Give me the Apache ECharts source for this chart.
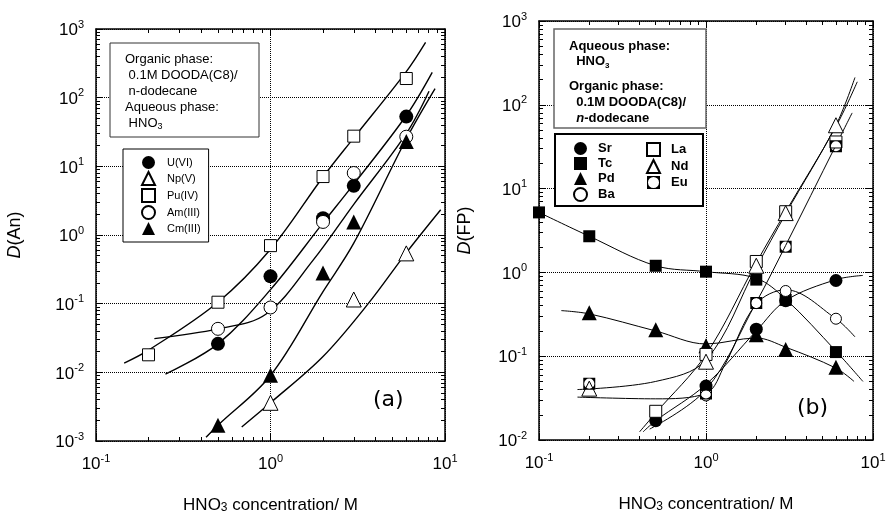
<!DOCTYPE html>
<html>
<head>
<meta charset="utf-8">
<script src="https://cdn.jsdelivr.net/npm/echarts@6/dist/echarts.min.js"></script>
<style>html,body{margin:0;padding:0;background:#fff;}</style>
</head>
<body>
<div id="main" style="width:887px;height:517px;"></div>
<script>
// ---- panel (a): actinides, D(An) vs HNO3 ----
var uPts  = [[0.5,0.026],[1,0.25],[2,1.75],[3,5.2],[6,53]];
var npPts = [[1,0.0036],[3,0.115],[6,0.54]];
var puPts = [[0.2,0.018],[0.5,0.105],[1,0.7],[2,7.1],[3,27.5],[6,190]];
var amPts = [[0.5,0.043],[1,0.088],[2,1.55],[3,8],[6,27]];
var cmPts = [[0.5,0.0017],[1,0.0091],[2,0.28],[3,1.55],[6,23]];

// fitted curves
var uFit  = [[0.25,0.0094],[0.5,0.026],[1,0.16],[2,1.5],[3,5.5],[6,55],[8.45,234]];
var npFit = [[0.684,0.0016],[1,0.0036],[2,0.017],[3.63,0.1],[6,0.55],[9.45,2.33]];
var puFit = [[0.145,0.0136],[0.2,0.021],[0.5,0.105],[1,0.62],[2,7],[3,26],[6,240],[7.74,640]];
var amFit = [[0.216,0.031],[0.5,0.043],[0.94,0.07],[1.76,0.434],[3,2.8],[6,30],[8.1,124]];
var cmFit = [[0.427,0.00113],[0.5,0.0017],[1,0.009],[2,0.15],[3,0.76],[6,25],[8.77,135]];

// ---- panel (b): fission products, D(FP) vs HNO3 ----
var srPts = [[0.5,0.017],[1,0.044],[2,0.21],[3,0.46],[6,0.8]];
var tcPts = [[0.1,5.2],[0.2,2.7],[0.5,1.2],[1,1.02],[2,0.82],[3,0.47],[6,0.112]];
var pdPts = [[0.2,0.33],[0.5,0.207],[1,0.133],[2,0.18],[3,0.12],[6,0.074]];
var baPts = [[1,0.034],[2,0.43],[3,0.6],[6,0.28]];
var laPts = [[0.5,0.022],[1,0.105],[2,1.35],[3,5.3],[6,36]];
var ndPts = [[0.2,0.041],[1,0.086],[2,1.2],[3,5.1],[6,57]];
var euPts = [[0.2,0.047],[1,0.036],[2,0.43],[3,2.03],[6,32]];

var srFit = [[0.42,0.0125],[0.5,0.017],[1,0.046],[2,0.2],[3,0.46],[6,0.82],[8.7,0.92]];
var tcFit = [[0.1,5.2],[0.2,2.7],[0.5,1.2],[1,1.02],[2,0.85],[3,0.48],[6,0.115],[8.7,0.05]];
var pdFit = [[0.136,0.35],[0.2,0.32],[0.5,0.2],[1,0.14],[2,0.165],[3,0.128],[6,0.072],[7.7,0.05]];
var baFit = [[0.17,0.0325],[0.5,0.031],[1,0.036],[1.3,0.08],[2,0.42],[3,0.62],[6,0.28],[7.8,0.17]];
var laFit = [[0.4,0.0125],[0.5,0.021],[1,0.105],[2,1.3],[3,5.3],[6,55],[8.05,188]];
var ndFit = [[0.17,0.04],[0.5,0.05],[1,0.09],[2,1.15],[3,5],[6,57],[7.8,212]];
var euFit = [[0.46,0.0135],[1,0.04],[2,0.44],[3,2.1],[6,33],[7.5,80]];

var legendA = ['U(VI)', 'Np(V)', 'Pu(IV)', 'Am(III)', 'Cm(III)'];
var legendB1 = ['Sr', 'Tc', 'Pd', 'Ba'];
var legendB2 = ['La', 'Nd', 'Eu'];

var FONT = '"Liberation Sans", Arial, sans-serif';
var EU_SYMBOL = 'path://M0 0H20V20H0Z M10 1.5A8.5 8.5 0 1 0 10 18.5A8.5 8.5 0 1 0 10 1.5Z';

var chart = echarts.init(document.getElementById('main'));

function expLabel(v) {
    var e = Math.round(Math.log(v) / Math.LN10);
    return '{b|10}{s|' + e + '}';
}

var labelRich = {
    b: {fontSize: 17, fontFamily: FONT, color: '#000', lineHeight: 20, verticalAlign: 'bottom'},
    s: {fontSize: 11, fontFamily: FONT, color: '#000', lineHeight: 11, verticalAlign: 'top'}
};

function logAxis(grid, pos, min, max, main, extra) {
    var ax = {
        type: 'log', logBase: 10, gridIndex: grid, position: pos, min: min, max: max,
        axisLine: {show: true, onZero: false, lineStyle: {color: '#000', width: 1.5}},
        axisTick: {show: true, inside: true, length: 7, lineStyle: {color: '#000', width: 1}},
        // splitNumber 9 puts the minor ticks at 2..9 x 10^k
        minorTick: {show: true, splitNumber: 9, length: 4, lineStyle: {color: '#000', width: 1}},
        axisLabel: main ? {show: true, formatter: expLabel, rich: labelRich, margin: 12} : {show: false},
        splitLine: main ? {show: true, lineStyle: {color: '#000', type: 'dotted', width: 1}} : {show: false},
        minorSplitLine: {show: false}
    };
    if (extra) for (var k in extra) ax[k] = extra[k];
    return ax;
}

var xName = {
    name: 'HNO{sub|3} concentration/ M', nameLocation: 'middle', nameGap: 64, nameMoveOverlap: false,
    nameTextStyle: {fontSize: 17, fontFamily: FONT, color: '#000', verticalAlign: 'middle',
        rich: {sub: {fontSize: 12, fontFamily: FONT, color: '#000', lineHeight: 12,
            verticalAlign: 'bottom', padding: [14, 0, 0, 0]}}}
};
function yName(txt, gap) {
    return {
        name: '{i|D}' + txt, nameLocation: 'middle', nameGap: gap, nameMoveOverlap: false,
        nameTextStyle: {fontSize: 18, fontFamily: FONT, color: '#000',
            rich: {i: {fontSize: 18, fontFamily: FONT, fontStyle: 'italic', color: '#000'}}}
    };
}

function marks(name, pts, xi, symbol, size, filled) {
    return {
        type: 'scatter', name: name, xAxisIndex: xi, yAxisIndex: xi, data: pts,
        symbol: symbol, symbolSize: size, symbolKeepAspect: true, z: 4,
        itemStyle: {color: filled ? '#000' : '#fff', borderColor: '#000', borderWidth: filled ? 0 : 1, opacity: 1}
    };
}
function fit(pts, xi, w) {
    return {
        type: 'line', name: '_fit', xAxisIndex: xi, yAxisIndex: xi, data: pts,
        showSymbol: false, symbol: 'none', smooth: 0.35, silent: true, z: 2,
        lineStyle: {color: '#000', width: w}
    };
}

var option = {
    backgroundColor: '#fff',
    animation: false,
    grid: [
        {left: 96, top: 29, width: 349, height: 412, containLabel: false, outerBoundsMode: 'none'},
        {left: 539, top: 21, width: 334, height: 419, containLabel: false, outerBoundsMode: 'none'}
    ],
    xAxis: [
        logAxis(0, 'bottom', 0.1, 10, true, xName),
        logAxis(0, 'top', 0.1, 10, false),
        logAxis(1, 'bottom', 0.1, 10, true, xName),
        logAxis(1, 'top', 0.1, 10, false)
    ],
    yAxis: [
        logAxis(0, 'left', 0.001, 1000, true, yName('(An)', 72)),
        logAxis(0, 'right', 0.001, 1000, false),
        logAxis(1, 'left', 0.01, 1000, true, yName('(FP)', 65)),
        logAxis(1, 'right', 0.01, 1000, false)
    ],
    legend: [
        {
            data: legendA, orient: 'vertical', left: 123, top: 149,
            padding: [7, 8, 7, 18], itemWidth: 13, itemHeight: 13, itemGap: 2, symbolKeepAspect: true,
            borderColor: '#000', borderWidth: 1, backgroundColor: '#fff', selectedMode: false,
            textStyle: {fontSize: 11, fontFamily: FONT, color: '#000', padding: [0, 0, 0, 7]}
        },
        {
            data: legendB1, orient: 'vertical', left: 573, top: 142,
            padding: 0, itemWidth: 13, itemHeight: 13, itemGap: 2, selectedMode: false, symbolKeepAspect: true,
            textStyle: {fontSize: 13, fontWeight: 'bold', fontFamily: FONT, color: '#000', padding: [0, 0, 0, 6]}
        },
        {
            data: legendB2, orient: 'vertical', left: 646, top: 142,
            padding: 0, itemWidth: 13, itemHeight: 13, itemGap: 2, selectedMode: false, symbolKeepAspect: true,
            textStyle: {fontSize: 13, fontWeight: 'bold', fontFamily: FONT, color: '#000', padding: [0, 0, 0, 6]}
        }
    ],
    graphic: [
        {type: 'rect', z: 3, shape: {x: 110, y: 43, width: 149, height: 94},
            style: {fill: '#fff', stroke: '#333', lineWidth: 1}},
        {type: 'text', z: 3, left: 125, top: 51,
            style: {text: 'Organic phase:\n 0.1M DOODA(C8)/\n n-dodecane\nAqueous phase:\n HNO{sub|3}',
                font: '13px ' + FONT, fill: '#000', lineHeight: 16,
                rich: {sub: {fontSize: 9, fontFamily: FONT, fill: '#000', padding: [8, 0, 0, 0]}}}},
        {type: 'rect', z: 3, shape: {x: 554, y: 29, width: 152, height: 99},
            style: {fill: '#fff', stroke: '#666', lineWidth: 1.5}},
        {type: 'text', z: 3, left: 569, top: 39,
            style: {text: 'Aqueous phase:\n  HNO{sub|3}', font: 'bold 13px ' + FONT, fill: '#000', lineHeight: 15,
                rich: {sub: {fontSize: 8, fontWeight: 'bold', fontFamily: FONT, fill: '#000', padding: [8, 0, 0, 0]}}}},
        {type: 'text', z: 3, left: 569, top: 78,
            style: {text: 'Organic phase:\n  0.1M DOODA(C8)/\n  {i|n}-dodecane', font: 'bold 13px ' + FONT, fill: '#000', lineHeight: 16,
                rich: {i: {fontStyle: 'italic', fontWeight: 'bold', fontSize: 13, fontFamily: FONT, fill: '#000'}}}},
        {type: 'rect', z: 3, shape: {x: 555, y: 134, width: 148, height: 72},
            style: {fill: '#fff', stroke: '#000', lineWidth: 2}},
        {type: 'text', z: 5, left: 373, top: 389,
            style: {text: '(a)', font: '22px "DejaVu Sans", sans-serif', fill: '#000'}},
        {type: 'text', z: 5, left: 797, top: 397,
            style: {text: '(b)', font: '22px "DejaVu Sans", sans-serif', fill: '#000'}}
    ],
    series: [
        fit(uFit, 0, 1.4), fit(npFit, 0, 1.4), fit(puFit, 0, 1.4), fit(amFit, 0, 1.4), fit(cmFit, 0, 1.4),
        marks('U(VI)', uPts, 0, 'circle', 14, true),
        marks('Np(V)', npPts, 0, 'triangle', 15, false),
        marks('Pu(IV)', puPts, 0, 'rect', 12, false),
        marks('Am(III)', amPts, 0, 'circle', 13, false),
        marks('Cm(III)', cmPts, 0, 'triangle', 15, true),

        fit(srFit, 2, 1), fit(tcFit, 2, 1), fit(pdFit, 2, 1), fit(baFit, 2, 1),
        fit(laFit, 2, 1), fit(ndFit, 2, 1), fit(euFit, 2, 1),
        marks('Sr', srPts, 2, 'circle', 13, true),
        marks('Tc', tcPts, 2, 'rect', 12, true),
        marks('Pd', pdPts, 2, 'triangle', 15, true),
        marks('Ba', baPts, 2, 'circle', 11, false),
        marks('La', laPts, 2, 'rect', 12, false),
        marks('Nd', ndPts, 2, 'triangle', 15, false),
        marks('Eu', euPts, 2, EU_SYMBOL, 12, true)
    ]
};

chart.setOption(option);
</script>
</body>
</html>
